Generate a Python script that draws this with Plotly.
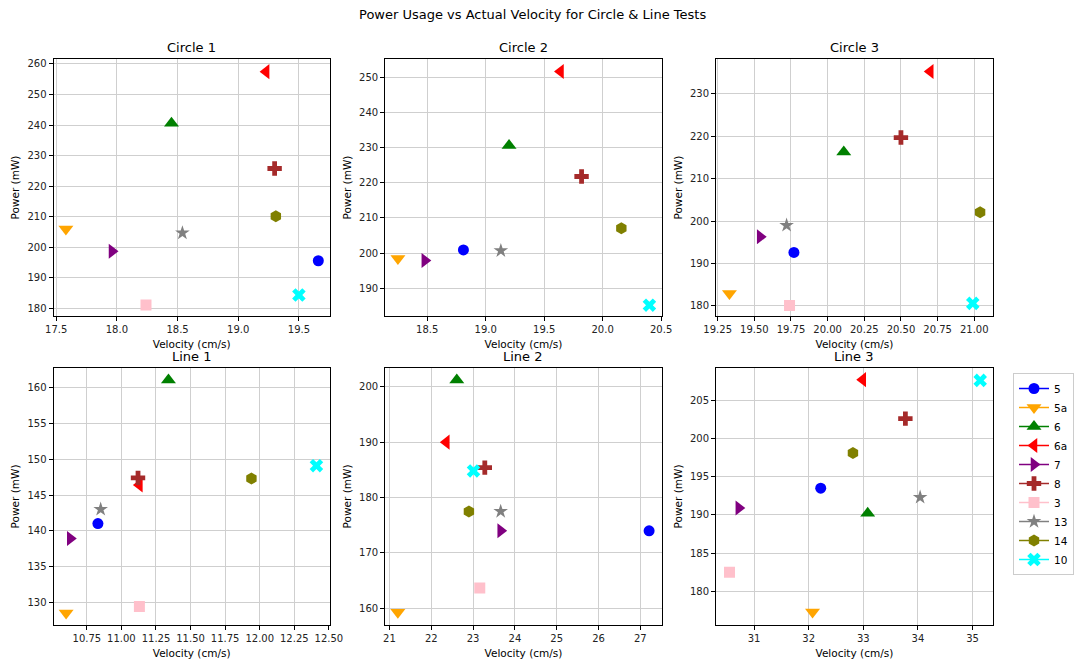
import plotly.graph_objects as go

# ---- data ----
series = ["5", "5a", "6", "6a", "7", "8", "3", "13", "14", "10"]
colors = ["blue", "orange", "green", "red", "purple", "brown", "pink", "gray", "olive", "cyan"]
symbols = ["circle", "triangle-down", "triangle-up", "triangle-left", "triangle-right",
           "cross", "square", "star", "hexagon", "x"]

test_names = ["Circle 1", "Circle 2", "Circle 3", "Line 1", "Line 2", "Line 3"]

circle1_vel = [19.66, 17.58, 18.45, 19.23, 17.96, 19.30, 18.24, 18.54, 19.31, 19.50]
circle1_pow = [195.6, 206.0, 240.6, 257.5, 198.7, 225.8, 181.1, 204.7, 210.2, 184.4]

circle2_vel = [18.81, 18.25, 19.20, 19.64, 18.48, 19.82, None, 19.13, 20.16, 20.40]
circle2_pow = [200.9, 198.5, 230.6, 251.7, 197.9, 221.8, None, 200.7, 207.1, 185.2]

circle3_vel = [19.77, 19.33, 20.11, 20.70, 19.54, 20.50, 19.74, 19.72, 21.04, 20.99]
circle3_pow = [192.6, 182.9, 216.3, 235.3, 196.3, 219.7, 180.1, 199.0, 202.1, 180.6]

line1_vel = [10.83, 10.60, 11.34, 11.13, 10.63, 11.12, 11.13, 10.85, 11.94, 12.41]
line1_pow = [141.0, 128.5, 161.1, 146.4, 138.9, 147.4, 129.4, 143.0, 147.3, 149.1]

line2_vel = [27.21, 21.20, 22.61, 22.36, 23.66, 23.28, 23.16, 23.66, 22.90, 23.01]
line2_pow = [174.0, 159.3, 201.2, 190.0, 174.0, 185.4, 163.7, 177.5, 177.5, 184.8]

line3_vel = [32.22, 32.07, 33.08, 32.99, 30.72, 33.77, 30.55, 34.04, 32.81, 35.14]
line3_pow = [193.5, 177.3, 190.2, 207.7, 190.9, 202.6, 182.5, 192.3, 198.1, 207.6]

velocities = [circle1_vel, circle2_vel, circle3_vel, line1_vel, line2_vel, line3_vel]
powers = [circle1_pow, circle2_pow, circle3_pow, line1_pow, line2_pow, line3_pow]

# ---- style config ----
marker_sizes = [11, 13, 13, 13, 13, 12, 11, 11, 12, 12]

x_domains = [[0.0503, 0.310], [0.362, 0.622], [0.673, 0.933]]
y_domains = [[0.524, 0.911], [0.0587, 0.446]]
x_ranges = [[17.478, 19.755], [18.141, 20.506], [19.239, 21.126],
            [10.509, 12.507], [20.897, 27.514], [30.304, 35.369]]
y_ranges = [[177.5, 261.6], [182.1, 255.2], [177.6, 238.2],
            [126.8, 162.8], [157.0, 203.4], [175.59, 209.24]]
x_dticks = [0.5, 0.5, 0.25, 0.25, 1, 1]
x_formats = [".1f", ".1f", ".2f", ".2f", "d", "d"]
y_dticks = [10, 10, 10, 5, 10, 5]

FONT = "DejaVu Sans, Verdana, sans-serif"

fig = go.Figure()

for k in range(6):
    ax = "" if k == 0 else str(k + 1)
    for i, name in enumerate(series):
        v = velocities[k][i]
        p = powers[k][i]
        fig.add_trace(go.Scatter(
            x=[v], y=[p], mode="lines+markers", name=name,
            legendgroup=name, showlegend=(k == 0),
            marker=dict(symbol=symbols[i], color=colors[i], size=marker_sizes[i], line=dict(width=0)),
            line=dict(color=colors[i], width=1.5),
            xaxis="x" + ax, yaxis="y" + ax,
        ))

layout = dict(
    width=1074, height=664,
    margin=dict(l=0, r=0, t=0, b=0),
    paper_bgcolor="white", plot_bgcolor="white",
    font=dict(family=FONT, size=10, color="black"),
    legend=dict(x=1023 / 1074, y=1 - 373 / 664, xanchor="left", yanchor="top",
                bordercolor="#cccccc", borderwidth=1, bgcolor="white",
                font=dict(size=10.5), itemwidth=30, tracegroupgap=0),
    annotations=[],
)

axis_common = dict(showline=True, linecolor="black", linewidth=1, mirror=True,
                   ticks="outside", ticklen=4, tickcolor="black",
                   showgrid=True, gridcolor="#cfcfcf", gridwidth=1,
                   zeroline=False, tickfont=dict(size=10, color="#222222"),
                   automargin=False)

for k in range(6):
    row, col = k // 3, k % 3
    ax = "" if k == 0 else str(k + 1)
    layout["xaxis" + ax] = dict(axis_common, domain=x_domains[col], range=x_ranges[k],
                                dtick=x_dticks[k], tick0=0, tickformat=x_formats[k],
                                anchor="y" + ax,
                                title=dict(text="Velocity (cm/s)", font=dict(size=10.5), standoff=6))
    layout["yaxis" + ax] = dict(axis_common, domain=y_domains[row], range=y_ranges[k],
                                dtick=y_dticks[k], tick0=0, anchor="x" + ax,
                                title=dict(text="Power (mW)", font=dict(size=10.5), standoff=5))
    layout["annotations"].append(dict(
        text=test_names[k], x=sum(x_domains[col]) / 2, y=y_domains[row][1],
        xref="paper", yref="paper", xanchor="center", yanchor="bottom",
        yshift=2, showarrow=False, font=dict(size=13)))

layout["annotations"].append(dict(
    text="Power Usage vs Actual Velocity for Circle & Line Tests",
    x=0.5, y=1 - 14 / 664, xref="paper", yref="paper", xanchor="center", yanchor="middle",
    showarrow=False, font=dict(size=13)))

fig.update_layout(layout)
fig.write_html("out.html", config={"displayModeBar": False},
               post_script="document.body.style.margin='0';document.body.style.overflow='hidden';")
